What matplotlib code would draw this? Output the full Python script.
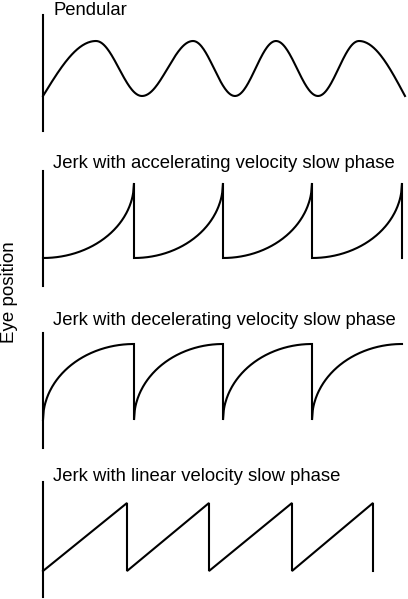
import matplotlib
matplotlib.use('Agg')

import matplotlib.pyplot as plt
import numpy as np

plt.rcParams['font.family'] = ['Liberation Sans', 'DejaVu Sans']

# Waveform data (time in arbitrary units, level 0..1)
PEND_T = [0, 53, 99, 150, 192, 233, 275, 316, 362]
PEND_Y = [0, 1, 0, 1, 0, 1, 0, 1, 0]
ACC_EDGES = [0, 91, 180, 269, 359]
DEC_EDGES = [0, 91, 180, 269, 359]
LIN_EDGES = [0, 84, 166, 249, 330]

TITLES = [
    'Pendular',
    'Jerk with accelerating velocity slow phase',
    'Jerk with decelerating velocity slow phase',
    'Jerk with linear velocity slow phase',
]
YLABEL = 'Eye position'

W, H = 408, 599
LW = 1.5
# panel layout in pixels: axis top, axis bottom, level-0 row, level-1 row, title baseline
PANELS = [
    (15, 131, 96, 41, 15),
    (171, 286, 258, 183, 168),
    (333, 448, 420, 344, 325),
    (482, 597, 571, 503, 481),
]
AX_LEFT = 43
TITLE_X = 53
XMAX = 365


def pendular_curve():
    xs, ys = [], []
    n = len(PEND_T) - 1
    for i in range(n):
        t0, t1 = PEND_T[i], PEND_T[i + 1]
        y0, y1 = PEND_Y[i], PEND_Y[i + 1]
        u = np.linspace(0, 1, 60)
        if i == 0:
            s = np.sin(u * np.pi / 2)          # starts mid-swing
        elif i == n - 1:
            s = 1 - np.cos(u * np.pi / 2)      # cut off mid-swing
        else:
            s = (1 - np.cos(u * np.pi)) / 2
        xs.append(t0 + u * (t1 - t0))
        ys.append(y0 + s * (y1 - y0))
    return np.concatenate(xs), np.concatenate(ys)


def jerk_curve(edges, kind, final_drop=True):
    xs, ys = [], []
    for i in range(len(edges) - 1):
        a, b = edges[i], edges[i + 1]
        u = np.linspace(0, 1, 120)
        if kind == 'acc':
            y = 1 - np.sqrt(1 - u ** 2)
        elif kind == 'dec':
            y = np.sqrt(1 - (1 - u) ** 2)
        else:
            y = u
        xs.append(a + u * (b - a))
        ys.append(y)
        if final_drop or i < len(edges) - 2:
            xs.append(np.array([b]))
            ys.append(np.array([0.0]))
    return np.concatenate(xs), np.concatenate(ys)


curves = [
    pendular_curve(),
    jerk_curve(ACC_EDGES, 'acc'),
    jerk_curve(DEC_EDGES, 'dec', final_drop=False),
    jerk_curve(LIN_EDGES, 'lin'),
]

fig = plt.figure(figsize=(W / 100, H / 100), dpi=100)

for (top, bot, lvl0, lvl1, base), (x, y), title in zip(PANELS, curves, TITLES):
    ax = fig.add_axes([AX_LEFT / W, 1 - bot / H, (W - AX_LEFT) / W, (bot - top) / H])
    unit = lvl0 - lvl1
    ax.set_ylim(-(bot - lvl0) / unit, (lvl0 - top) / unit)
    ax.set_xlim(0, XMAX)
    ax.plot(x, y, color='black', lw=LW, clip_on=False, solid_joinstyle='miter')
    for side in ['top', 'right', 'bottom']:
        ax.spines[side].set_visible(False)
    ax.spines['left'].set_linewidth(LW)
    ax.set_xticks([])
    ax.set_yticks([])
    ax.patch.set_alpha(0)
    fig.text(TITLE_X / W, 1 - base / H, title, fontsize=13.3, va='baseline', ha='left')

fig.text(10 / W, 1 - 292 / H, YLABEL, fontsize=13.5, rotation=90, va='center', ha='center')

fig.savefig('out.png', dpi=100)
